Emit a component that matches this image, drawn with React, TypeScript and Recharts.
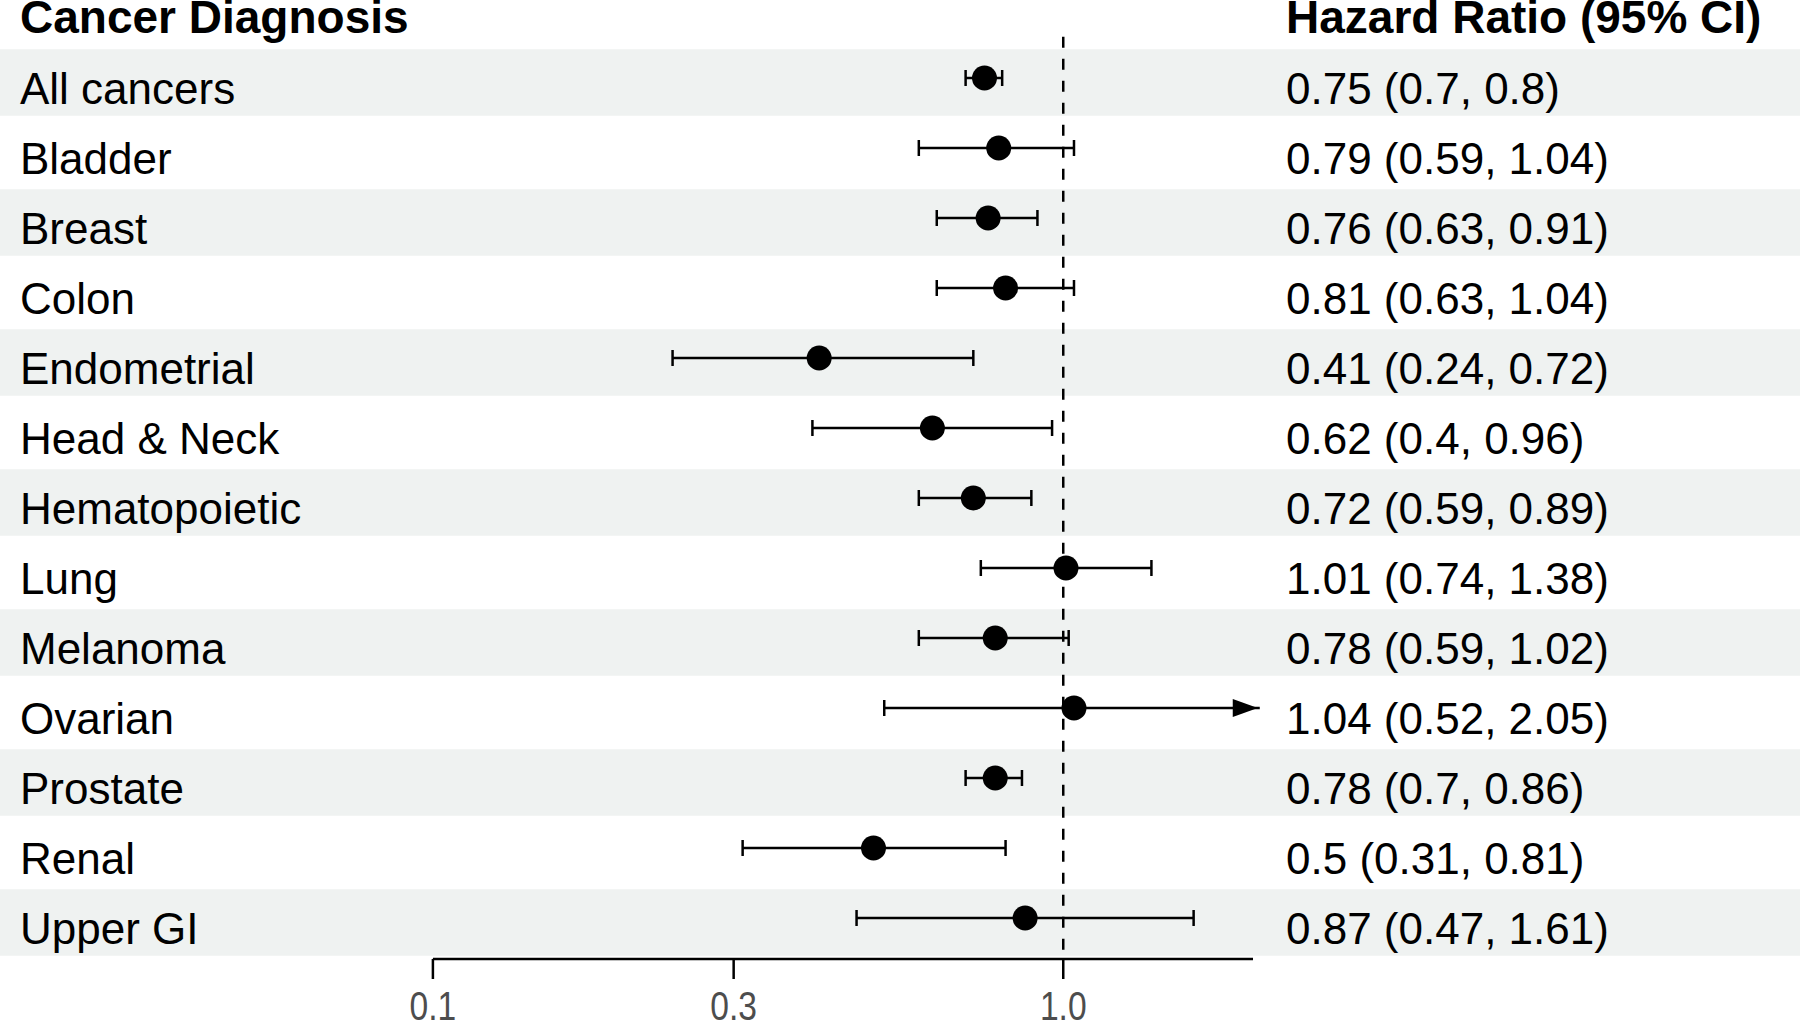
import React from "react";
import {
  ScatterChart,
  Scatter,
  XAxis,
  YAxis,
  ErrorBar,
  ReferenceArea,
  ReferenceLine,
} from "recharts";

const categories = [
  "All cancers",
  "Bladder",
  "Breast",
  "Colon",
  "Endometrial",
  "Head & Neck",
  "Hematopoietic",
  "Lung",
  "Melanoma",
  "Ovarian",
  "Prostate",
  "Renal",
  "Upper GI",
];
const hazardRatio = [0.75, 0.79, 0.76, 0.81, 0.41, 0.62, 0.72, 1.01, 0.78, 1.04, 0.78, 0.5, 0.87];
const lowerCI = [0.7, 0.59, 0.63, 0.63, 0.24, 0.4, 0.59, 0.74, 0.59, 0.52, 0.7, 0.31, 0.47];
const upperCI = [0.8, 1.04, 0.91, 1.04, 0.72, 0.96, 0.89, 1.38, 1.02, 2.05, 0.86, 0.81, 1.61];
const xTicks = [0.1, 0.3, 1];
const axisMin = 0.1;
const axisMax = 2;

const leftHeader = "Cancer Diagnosis";
const rightHeader = "Hazard Ratio (95% CI)";

const FONT = "'Liberation Sans', Arial, sans-serif";
const BAND = "#EFF2F1";

const rows = categories.map((name, i) => ({
  name,
  x: hazardRatio[i],
  y: i,
  err: [hazardRatio[i] - lowerCI[i], upperCI[i] > axisMax ? 0 : upperCI[i] - hazardRatio[i]],
}));

// rows whose upper limit runs past the axis end get an arrow
const arrows = categories
  .map((name, i) => ({ name, x: upperCI[i], y: i, err: [upperCI[i] - hazardRatio[i], 0] }))
  .filter((d) => d.x > axisMax);

const rowTicks = [-1, ...categories.map((_, i) => i)];
const yDomain: [number, number] = [-1.114, 12.586];

const LeftTick = (props: any) => {
  const { y, payload } = props;
  const v = payload.value;
  if (v === -1) {
    return (
      <text x={20} y={y + 25} fontSize={46} fontWeight="bold" fontFamily={FONT} fill="#000">
        {leftHeader}
      </text>
    );
  }
  return (
    <text x={20} y={y + 26} fontSize={44} fontFamily={FONT} fill="#000">
      {categories[v]}
    </text>
  );
};

const RightTick = (props: any) => {
  const { y, payload } = props;
  const v = payload.value;
  if (v === -1) {
    return (
      <text x={1286} y={y + 25} fontSize={46} fontWeight="bold" fontFamily={FONT} fill="#000">
        {rightHeader}
      </text>
    );
  }
  return (
    <text x={1286} y={y + 26} fontSize={44} fontFamily={FONT} fill="#000">
      {`${hazardRatio[v]} (${lowerCI[v]}, ${upperCI[v]})`}
    </text>
  );
};

const XTick = (props: any) => {
  const { x, y, payload } = props;
  return (
    <text
      transform={`translate(${x},${y + 39}) scale(0.82,1)`}
      textAnchor="middle"
      fontSize={41}
      fontFamily={FONT}
      fill="#4D4D4D"
    >
      {payload.value.toFixed(1)}
    </text>
  );
};

const Dot = (props: any) => <circle cx={props.cx} cy={props.cy} r={12.5} fill="#000" />;

const Arrow = (props: any) => {
  const { cx, cy } = props;
  return <polygon points={`${cx - 2},${cy} ${cx - 27},${cy - 9} ${cx - 27},${cy + 9}`} fill="#000" />;
};

export default function App() {
  return (
    <div style={{ position: "absolute", left: 0, top: 0, background: "#fff" }}>
      <ScatterChart width={1800} height={1021} margin={{ top: 0, right: 0, bottom: 0, left: 0 }}>
        <XAxis
          type="number"
          dataKey="x"
          scale="log"
          domain={[0.02057, 14.75]}
          allowDataOverflow
          ticks={xTicks}
          interval={0}
          axisLine={false}
          tickLine={{ stroke: "#000", strokeWidth: 2.5 }}
          tickSize={20}
          tick={<XTick />}
          height={62}
        />
        <YAxis
          yAxisId={0}
          type="number"
          dataKey="y"
          domain={yDomain}
          allowDataOverflow
          reversed
          ticks={rowTicks}
          interval={0}
          mirror
          axisLine={false}
          tickLine={false}
          tick={<LeftTick />}
        />
        <YAxis
          yAxisId="right"
          orientation="right"
          type="number"
          domain={yDomain}
          allowDataOverflow
          reversed
          ticks={rowTicks}
          interval={0}
          mirror
          axisLine={false}
          tickLine={false}
          tick={<RightTick />}
        />
        {categories.map((c, i) =>
          i % 2 === 0 ? (
            <ReferenceArea
              key={c}
              yAxisId={0}
              y1={i - 0.41}
              y2={i + 0.54}
              fill={BAND}
              fillOpacity={1}
              stroke="none"
              ifOverflow="visible"
            />
          ) : null
        )}
        <ReferenceLine
          yAxisId={0}
          segment={[
            { x: 1, y: -0.59 },
            { x: 1, y: yDomain[1] },
          ]}
          stroke="#000"
          strokeWidth={2.5}
          strokeDasharray="11 11"
          ifOverflow="visible"
        />
        <ReferenceLine
          yAxisId={0}
          segment={[
            { x: axisMin, y: yDomain[1] },
            { x: axisMax, y: yDomain[1] },
          ]}
          stroke="#000"
          strokeWidth={2.5}
          ifOverflow="visible"
        />
        <Scatter yAxisId={0} data={arrows} shape={<Arrow />} isAnimationActive={false}>
          <ErrorBar dataKey="err" direction="x" width={0} stroke="#000" strokeWidth={2.5} />
        </Scatter>
        <Scatter yAxisId={0} data={rows} shape={<Dot />} isAnimationActive={false}>
          <ErrorBar dataKey="err" direction="x" width={8} stroke="#000" strokeWidth={2.5} />
        </Scatter>
      </ScatterChart>
    </div>
  );
}
